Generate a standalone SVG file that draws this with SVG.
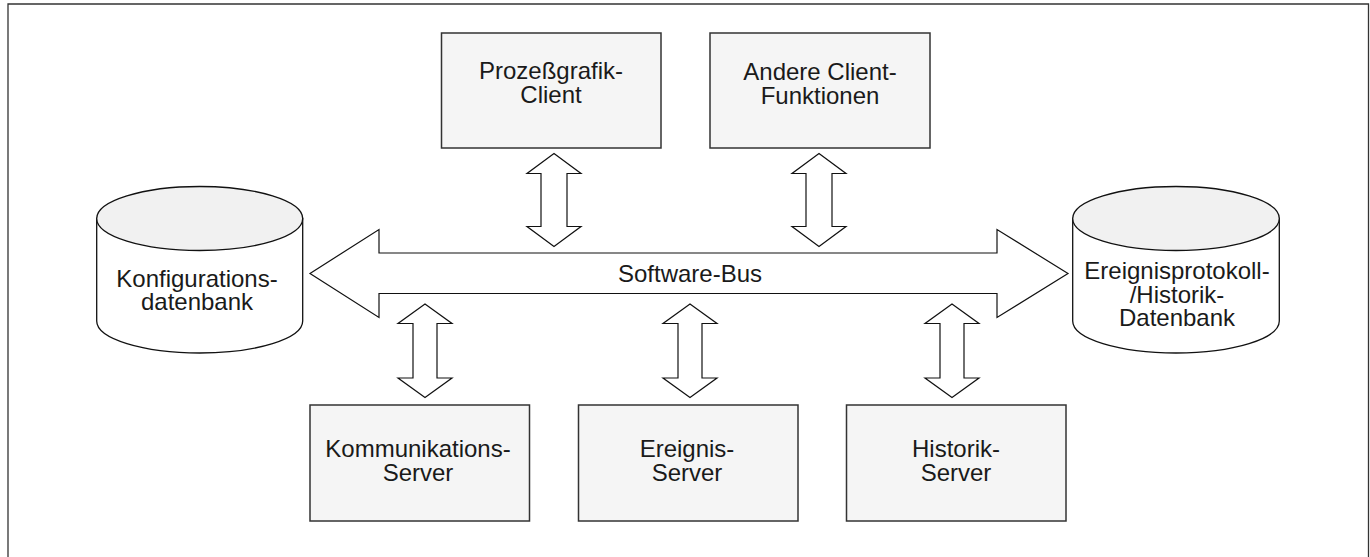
<svg xmlns="http://www.w3.org/2000/svg" width="1370" height="557" viewBox="0 0 1370 557">
  <style>
    .frame { fill: none; stroke: #333; stroke-width: 1.3; }
    .box { fill: #f5f5f5; stroke: #333; stroke-width: 1.5; }
    .cylBody { fill: #ffffff; stroke: #111; stroke-width: 1.3; }
    .cylTop { fill: #f1f1f1; stroke: #111; stroke-width: 1.3; }
    .arrow { fill: #ffffff; stroke: #111; stroke-width: 1.2; stroke-linejoin: miter; }
    .label { font-family: "Liberation Sans", Arial, sans-serif; font-size: 24px; fill: #1a1a1a; text-anchor: middle; }
  </style>

  <path class="frame" d="M8,557 V4 H1368.5 V557"/>

  <g id="connectors">
    <!-- Software bus (double-headed) -->
    <path id="bus" class="arrow" d="M310,273.5 L379,229.5 L379,253 L997,253 L997,229.5 L1068,273.5 L997,317.5 L997,293.5 L379,293.5 L379,317.5 Z"/>
    <!-- Prozeßgrafik-Client <-> bus -->
    <path class="arrow" d="M554,153.5 L581,173.5 L567,173.5 L567,226.5 L581,226.5 L554,246.5 L527,226.5 L541,226.5 L541,173.5 L527,173.5 Z"/>
    <!-- Andere Client-Funktionen <-> bus -->
    <path class="arrow" d="M819,153.5 L846,173.5 L832,173.5 L832,226.5 L846,226.5 L819,246.5 L792,226.5 L806,226.5 L806,173.5 L792,173.5 Z"/>
    <!-- bus <-> Kommunikations-Server -->
    <path class="arrow" d="M425,304 L452,323.5 L437,323.5 L437,378 L452,378 L425,397.5 L398,378 L413,378 L413,323.5 L398,323.5 Z"/>
    <!-- bus <-> Ereignis-Server -->
    <path class="arrow" d="M690,304 L717,323.5 L702,323.5 L702,378 L717,378 L690,397.5 L663,378 L678,378 L678,323.5 L663,323.5 Z"/>
    <!-- bus <-> Historik-Server -->
    <path class="arrow" d="M952,304 L979,323.5 L964,323.5 L964,378 L979,378 L952,397.5 L925,378 L940,378 L940,323.5 L925,323.5 Z"/>
    <text class="label" x="690" y="281.5">Software-Bus</text>
  </g>

  <g id="prozessgrafik-client">
    <rect class="box" x="441.5" y="33" width="219.5" height="115"/>
    <text class="label" x="551" y="79">Prozeßgrafik-</text>
    <text class="label" x="551" y="103">Client</text>
  </g>

  <g id="andere-client-funktionen">
    <rect class="box" x="710" y="33" width="220" height="115"/>
    <text class="label" x="820" y="80">Andere Client-</text>
    <text class="label" x="820" y="104">Funktionen</text>
  </g>

  <g id="konfigurationsdatenbank">
    <path class="cylBody" d="M96.7,218.5 V321 A103,32 0 0 0 302.7,321 V218.5 Z"/>
    <ellipse class="cylTop" cx="199.7" cy="218.5" rx="103" ry="32"/>
    <text class="label" x="197" y="286.5">Konfigurations-</text>
    <text class="label" x="197" y="309.5">datenbank</text>
  </g>

  <g id="ereignisprotokoll-historik-datenbank">
    <path class="cylBody" d="M1072.7,218.5 V321 A103.3,32 0 0 0 1279.3,321 V218.5 Z"/>
    <ellipse class="cylTop" cx="1176" cy="218.5" rx="103.3" ry="32"/>
    <text class="label" x="1177" y="279">Ereignisprotokoll-</text>
    <text class="label" x="1177" y="302.5">/Historik-</text>
    <text class="label" x="1177" y="326">Datenbank</text>
  </g>

  <g id="kommunikations-server">
    <rect class="box" x="310" y="405" width="219.5" height="116"/>
    <text class="label" x="418" y="457">Kommunikations-</text>
    <text class="label" x="418" y="481">Server</text>
  </g>

  <g id="ereignis-server">
    <rect class="box" x="578.5" y="405" width="219.5" height="116"/>
    <text class="label" x="687" y="457">Ereignis-</text>
    <text class="label" x="687" y="481">Server</text>
  </g>

  <g id="historik-server">
    <rect class="box" x="846.5" y="405" width="219.5" height="116"/>
    <text class="label" x="956" y="457">Historik-</text>
    <text class="label" x="956" y="481">Server</text>
  </g>
</svg>
